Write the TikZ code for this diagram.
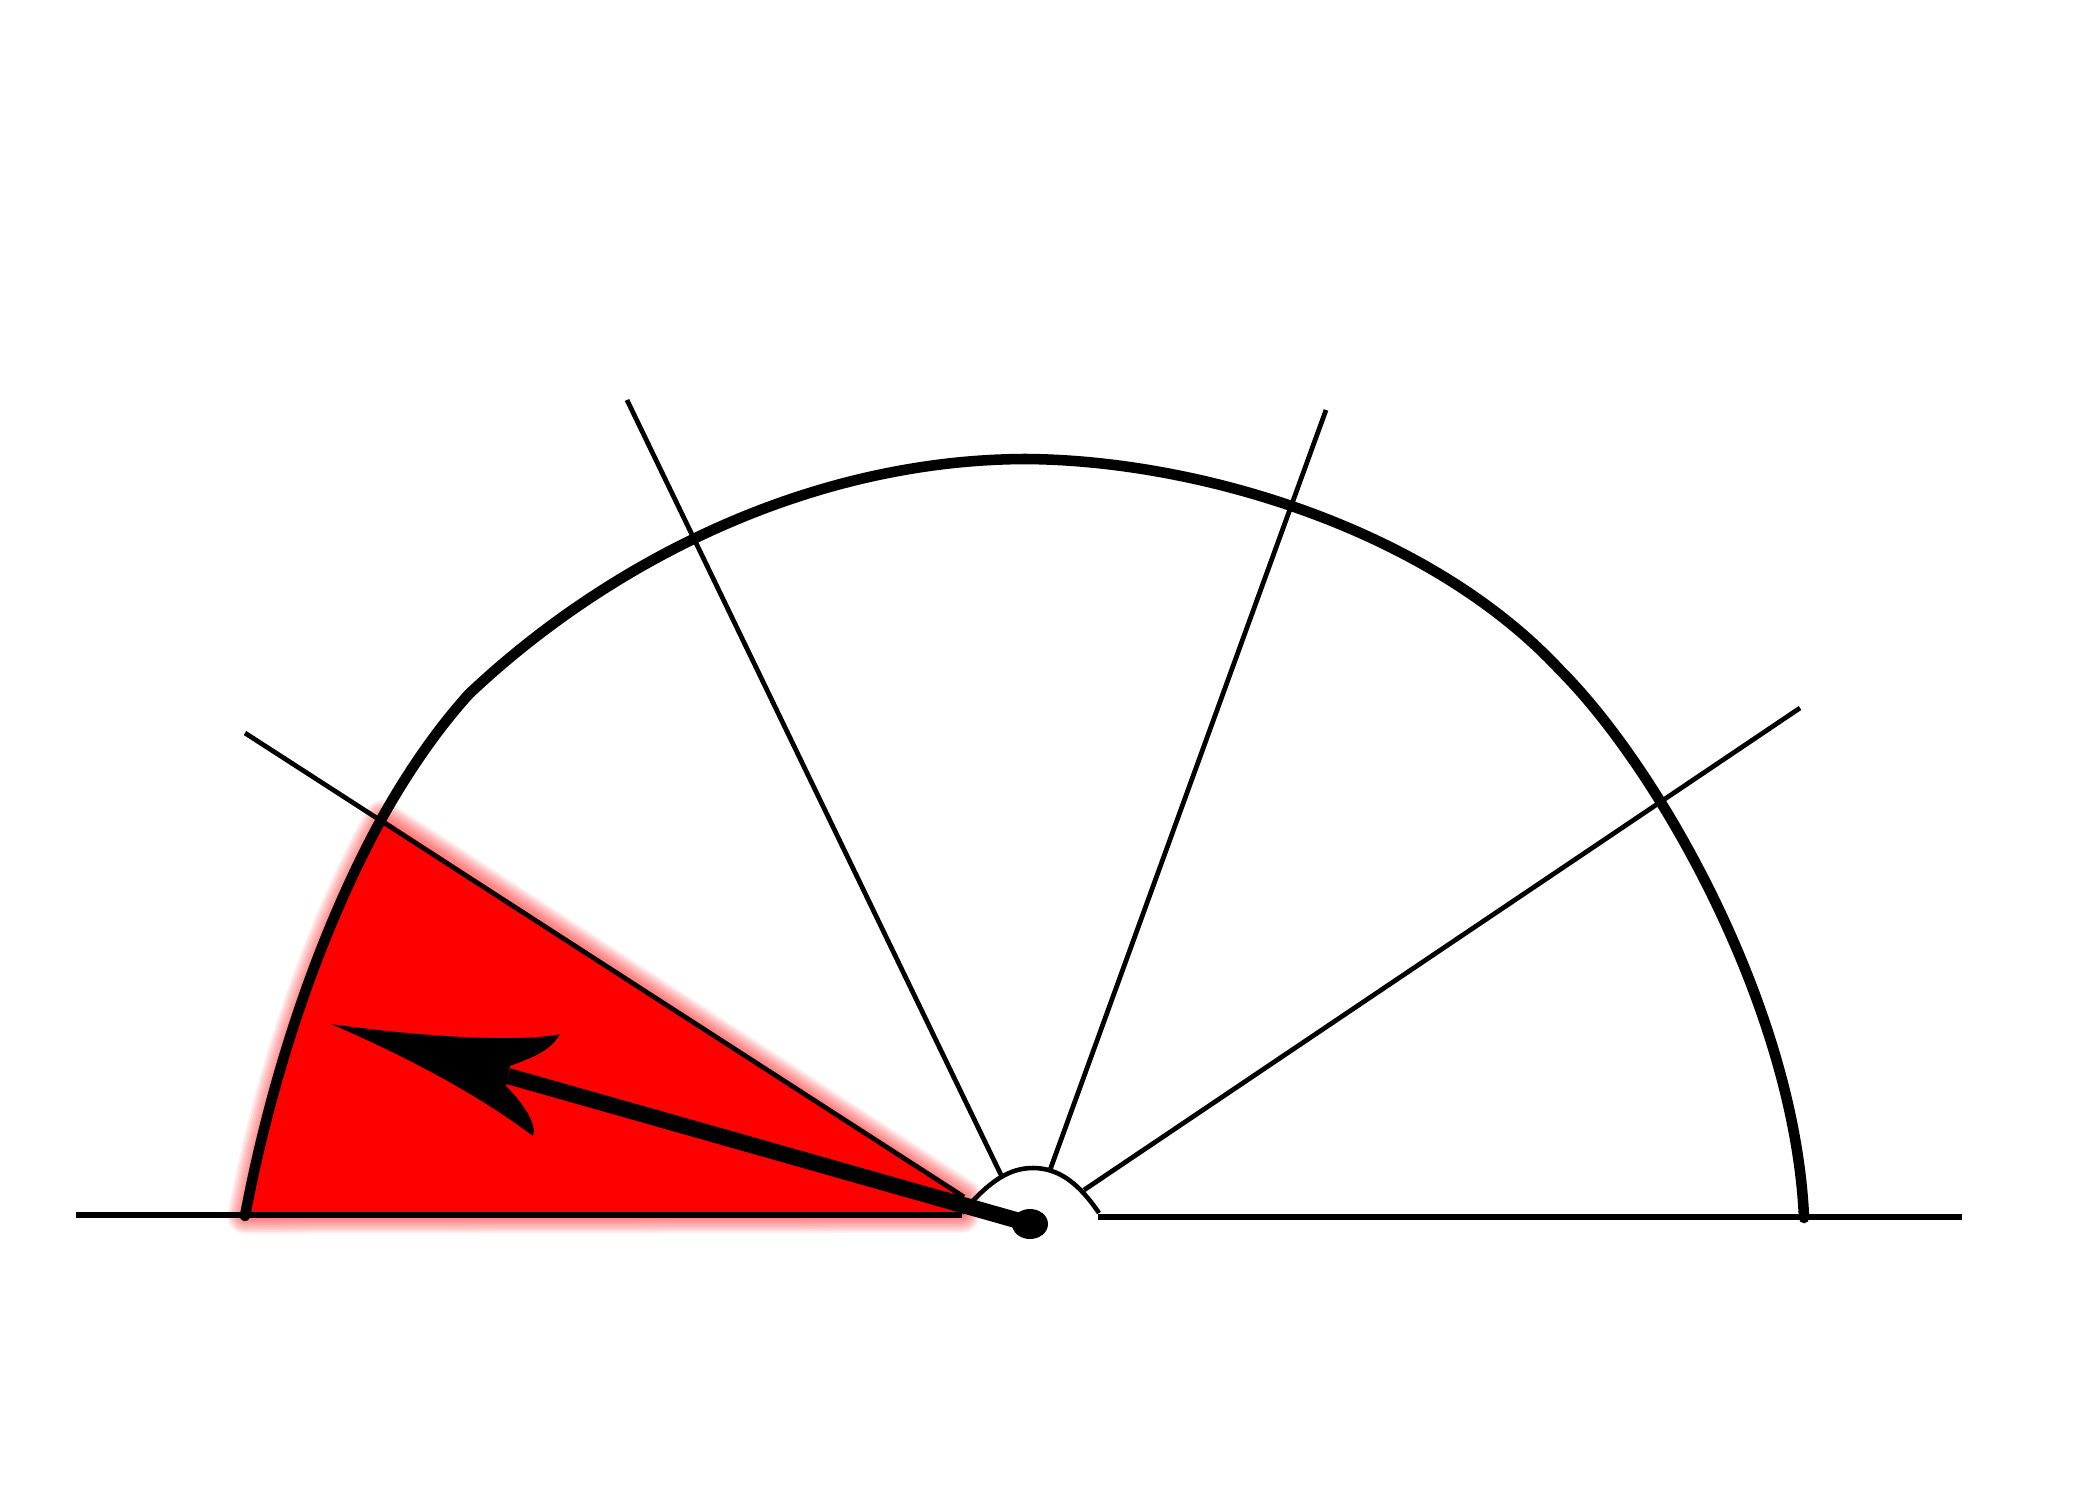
\documentclass[tikz,border=0pt]{standalone}
\usepackage{xcolor}
\usepackage{tikz}
\usetikzlibrary{calc}
\tikzset{
  dial rim/.style={line width=3pt, line cap=round, line join=round},
  dial ray/.style={line width=1.35pt},
  dial base/.style={line width=1.5pt},
  dial hub/.style={line width=1.3pt},
  dial needle/.style={line width=4.6pt},
  dial tip/.style={fill=black},
  dial sector/.style={fill=red},
  dial glow/.style={draw=red, line join=round, draw opacity=0.07},
}

\begin{document}
\begin{tikzpicture}[x=0.1mm, y=-0.1mm]
  \useasboundingbox (0,0) rectangle (2100,1500);

  \coordinate (rimL) at (245,1216);
  \coordinate (cross) at (382,818);
  \coordinate (rimA) at (469,694);
  \coordinate (rimTop) at (1025,459);
  \coordinate (rimB) at (1560,670);
  \coordinate (rimR) at (1804,1218);

  \coordinate (hubL) at (962,1213);
  \coordinate (hubTop) at (1033,1168);
  \coordinate (hubR) at (1099,1213);
  \coordinate (pivot) at (1030,1224);

  \coordinate (baseLa) at (76,1215);
  \coordinate (baseLb) at (962,1215);
  \coordinate (baseRa) at (1098,1217);
  \coordinate (baseRb) at (1962,1217);

  \coordinate (rayAout) at (245,733);
  \coordinate (rayAin) at (964,1197);
  \coordinate (rayBout) at (627,400);
  \coordinate (rayBin) at (1002,1177);
  \coordinate (rayCout) at (1326,410);
  \coordinate (rayCin) at (1050,1170);
  \coordinate (rayDout) at (1800,708);
  \coordinate (rayDin) at (1084,1190);

  \coordinate (tip) at (331,1024);
  \coordinate (barbU) at (560,1034);
  \coordinate (notchU) at (510,1066);
  \coordinate (notch) at (508,1076);
  \coordinate (notchL) at (506,1086);
  \coordinate (barbL) at (533,1136);

  % soft red sector
  \foreach \w in {10,9,8,7,6,5,4,3,2}
    \draw[dial glow, line width=\w pt]
      (rimL) -- (baseLb) -- (rayAin) -- (cross)
      .. controls (326,920) and (275,1058) .. (rimL) -- cycle;
  \fill[dial sector]
    (rimL) -- (baseLb) -- (rayAin) -- (cross)
    .. controls (326,920) and (275,1058) .. (rimL) -- cycle;

  \draw[dial base] (baseLa) -- (baseLb);
  \draw[dial base] (baseRa) -- (baseRb);

  \draw[dial ray] (rayAout) -- (rayAin);
  \draw[dial ray] (rayBout) -- (rayBin);
  \draw[dial ray] (rayCout) -- (rayCin);
  \draw[dial ray] (rayDout) -- (rayDin);

  \draw[dial rim] (rimL) .. controls (275,1058) and (326,920) .. (cross)
    .. controls (410,768) and (440,726) .. (rimA)
    .. controls (600,570) and (800,460) .. (rimTop)
    .. controls (1200,460) and (1430,530) .. (rimB)
    .. controls (1660,770) and (1795,1010) .. (rimR);

  \draw[dial needle] (pivot) -- (notch);
  \fill[dial tip] (tip) .. controls (430,1038) and (525,1042) .. (barbU)
    .. controls (550,1052) and (530,1058) .. (notchU) -- (notchL)
    .. controls (526,1106) and (537,1126) .. (barbL)
    .. controls (480,1096) and (410,1058) .. (tip) -- cycle;

  \draw[dial hub] (hubL) .. controls (990,1180) and (1010,1168) .. (hubTop)
    .. controls (1060,1168) and (1080,1185) .. (hubR);

  \fill (pivot) ellipse [x radius=18, y radius=15];
\end{tikzpicture}
\end{document}
